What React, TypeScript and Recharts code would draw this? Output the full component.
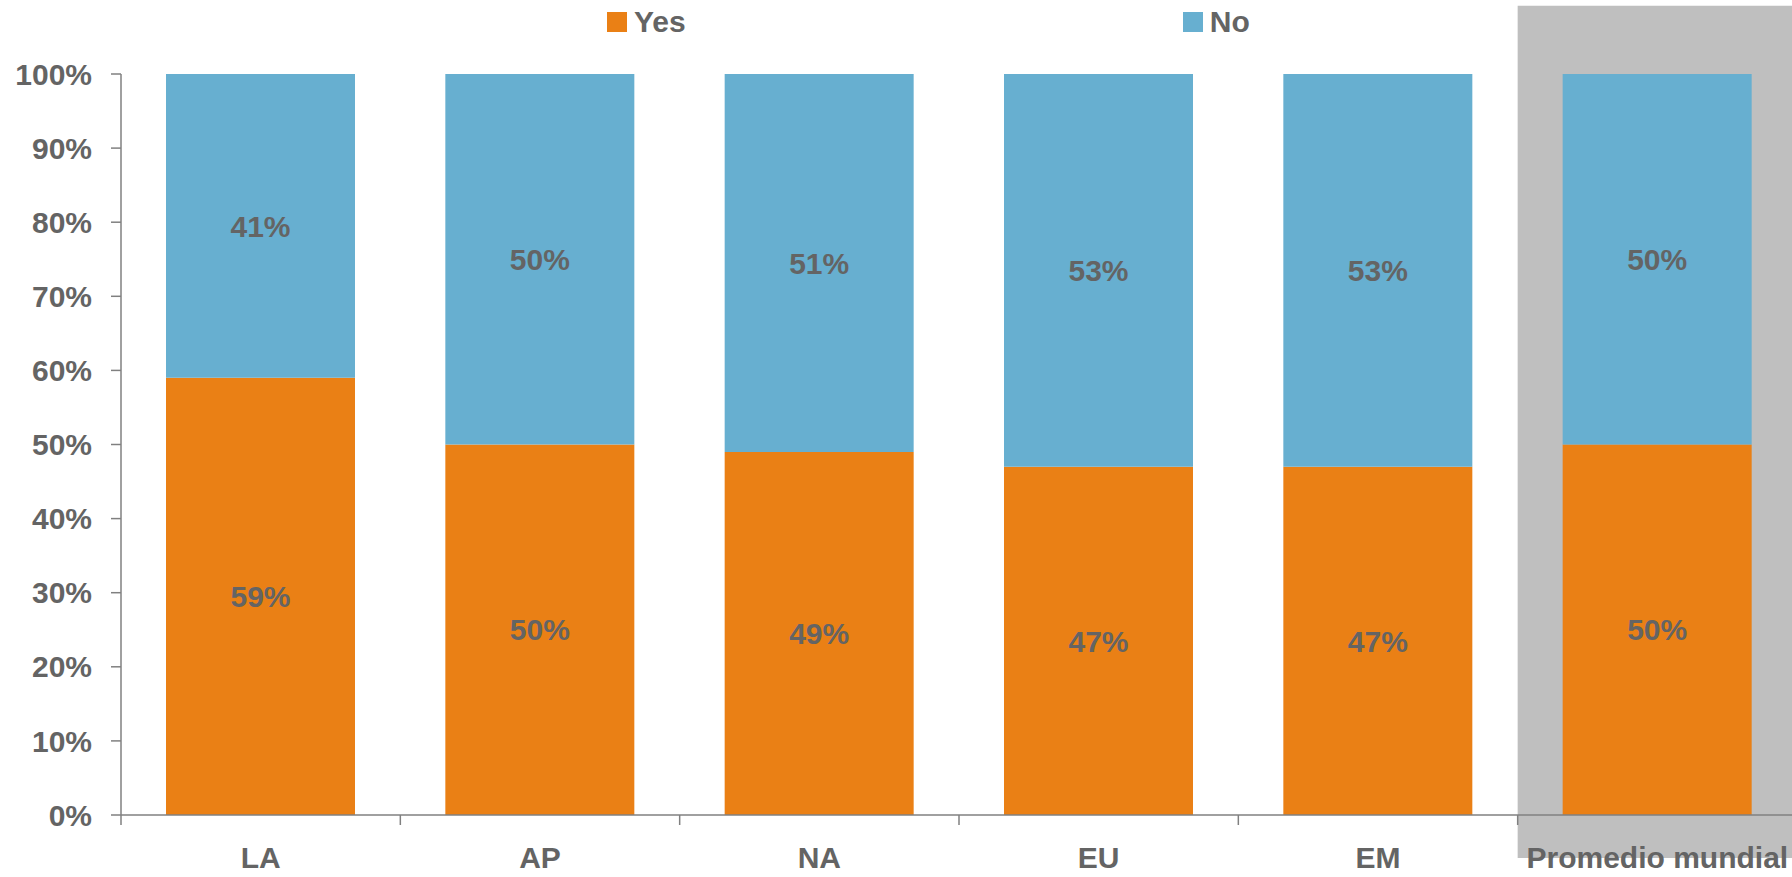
import React from 'react';
import { BarChart, Bar, XAxis, YAxis, Legend, LabelList, ReferenceArea } from 'recharts';

const regions = ['LA', 'AP', 'NA', 'EU', 'EM', 'Promedio mundial'];
const yesValues = [59, 50, 49, 47, 47, 50];
const noValues = [41, 50, 51, 53, 53, 50];
const yTicks = [0, 10, 20, 30, 40, 50, 60, 70, 80, 90, 100];
const legendOrder = ['Yes', 'No'];

const ORANGE = '#EA8015';
const BLUE = '#67AFD0';
const TEXT = '#646464';
const AXIS = '#808080';
const FONT = '"Liberation Sans", Arial, sans-serif';

const data = regions.map((name, i) => ({ name, yes: yesValues[i], no: noValues[i] }));

const pct = (v: any) => `${v}%`;

// category label at the band centre, tick mark at the band's left edge
const CategoryTick = (props: any) => {
  const { x, y, payload } = props;
  const half = payload && payload.offset ? payload.offset : 0;
  return (
    <g>
      <line x1={x - half} x2={x - half} y1={y} y2={y + 10} stroke={AXIS} strokeWidth={1.5} />
      <text x={x} y={y + 53} textAnchor="middle" fill={TEXT} fontSize={30} fontWeight="bold" fontFamily={FONT}>
        {payload.value}
      </text>
    </g>
  );
};

const renderLegend = (props: any) => {
  const items = [...(props.payload || [])].sort(
    (a: any, b: any) => legendOrder.indexOf(a.value) - legendOrder.indexOf(b.value)
  );
  return (
    <div style={{ height: 44, display: 'flex', alignItems: 'flex-start', paddingLeft: 607, gap: 497, fontFamily: FONT }}>
      {items.map((entry: any) => (
        <div key={entry.value} style={{ display: 'flex', alignItems: 'center', marginTop: 5 }}>
          <span style={{ width: 20, height: 20, background: entry.color, display: 'inline-block', marginRight: 7 }} />
          <span style={{ fontSize: 30, fontWeight: 'bold', color: TEXT, lineHeight: '34px' }}>{entry.value}</span>
        </div>
      ))}
    </div>
  );
};

export default function App() {
  return (
    <div style={{ width: 1792, height: 877, overflow: 'hidden', position: 'relative' }}>
      <style>{`body{margin:0;overflow:hidden}`}</style>
      <BarChart
        width={1800}
        height={877}
        data={data}
        margin={{ top: 30, right: 3, bottom: 0, left: 0 }}
        style={{ fontFamily: FONT }}
      >
        <XAxis
          dataKey="name"
          interval={0}
          height={62}
          axisLine={{ stroke: AXIS, strokeWidth: 1.5 }}
          tickLine={false}
          tickSize={0}
          tickMargin={0}
          tick={<CategoryTick />}
        />
        <YAxis
          width={121}
          domain={[0, 100]}
          ticks={yTicks}
          tickFormatter={pct}
          tickSize={10}
          tickMargin={19}
          interval={0}
          axisLine={{ stroke: AXIS, strokeWidth: 1.5 }}
          tickLine={{ stroke: AXIS, strokeWidth: 1.5 }}
          tick={{ fill: TEXT, fontSize: 30, fontWeight: 'bold' }}
        />
        <Legend verticalAlign="top" content={renderLegend} wrapperStyle={{ top: 0, left: 0, width: 1792 }} />
        <ReferenceArea
          x1="Promedio mundial"
          x2="Promedio mundial"
          y1={-5.8}
          y2={109.2}
          fill="#BFBFBF"
          fillOpacity={1}
          stroke="none"
          ifOverflow="visible"
        />
        <Bar dataKey="yes" name="Yes" stackId="a" fill={ORANGE} barSize={189} isAnimationActive={false}>
          <LabelList dataKey="yes" position="center" formatter={pct} fill={TEXT} fontSize={30} fontWeight="bold" />
        </Bar>
        <Bar dataKey="no" name="No" stackId="a" fill={BLUE} barSize={189} isAnimationActive={false}>
          <LabelList dataKey="no" position="center" formatter={pct} fill={TEXT} fontSize={30} fontWeight="bold" />
        </Bar>
      </BarChart>
    </div>
  );
}
